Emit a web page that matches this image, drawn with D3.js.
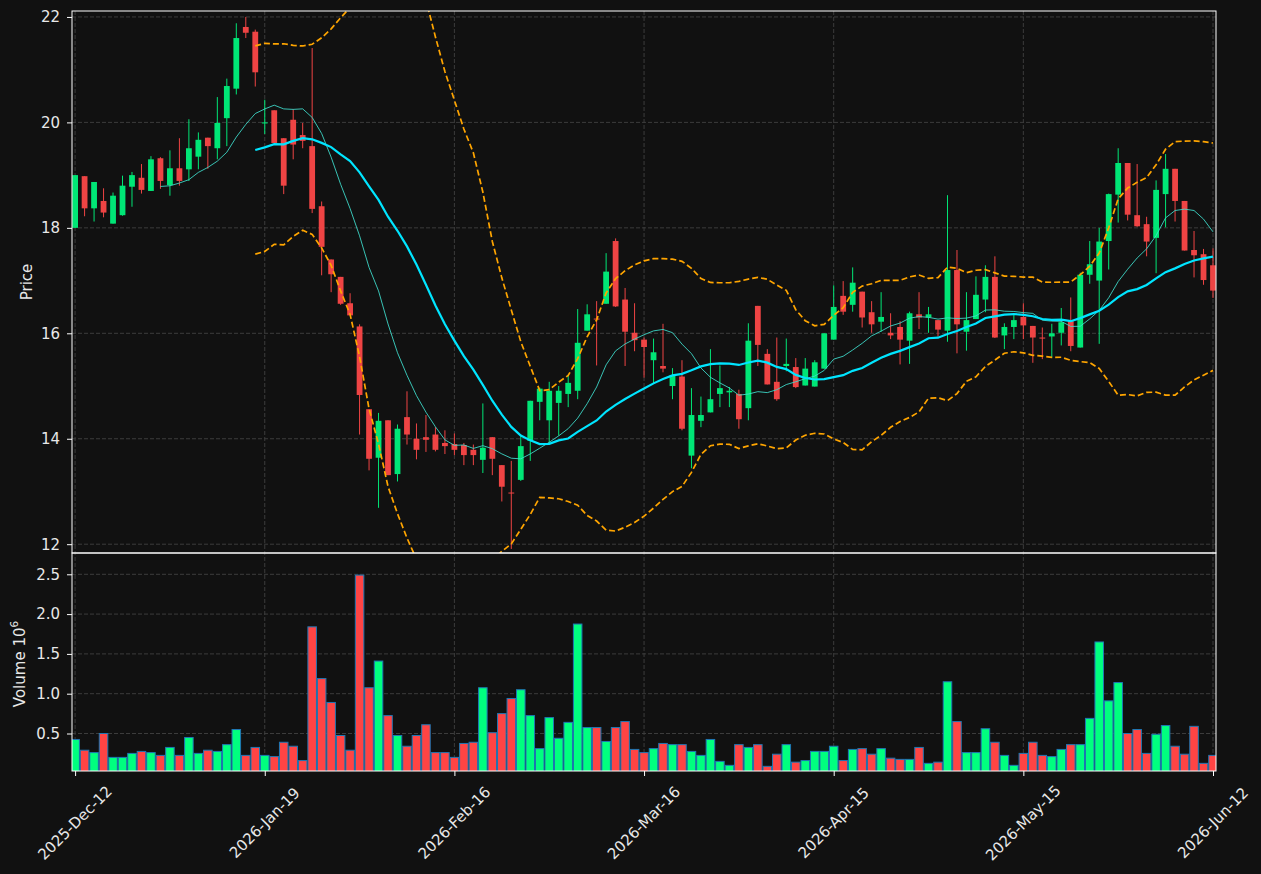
<!DOCTYPE html>
<html>
<head>
<meta charset="utf-8">
<script src="https://cdn.jsdelivr.net/npm/d3@7"></script>
<style>
  body { margin: 0; background: #111111; }
  svg { display: block; }
  text { font-family: "DejaVu Sans", sans-serif; fill: #e8e8e8; }
</style>
</head>
<body>
<svg id="chart" width="1261" height="874"></svg>
<script>
// tick labels on the shared x axis (one every 20 sessions)
const tickIdx = [0, 20, 40, 60, 80, 100, 120];
const tickLabels = ["2025-Dec-12", "2026-Jan-19", "2026-Feb-16", "2026-Mar-16",
                    "2026-Apr-15", "2026-May-15", "2026-Jun-12"];

// daily OHLC
const opens = [
  18.00, 18.98, 18.37, 18.51, 18.08, 18.24, 18.78, 18.95, 18.70, 19.32,
  18.81, 19.13, 19.11, 19.35, 19.71, 19.51, 20.08, 20.64, 21.81, 21.72,
  19.98, 20.23, 19.70, 20.05, 19.76, 19.55, 18.41, 17.40, 17.07, 16.57,
  16.13, 14.56, 13.64, 14.35, 13.33, 14.41, 14.00, 14.03, 14.08, 13.92,
  13.90, 13.88, 13.79, 13.60, 14.03, 13.50, 12.98, 13.22, 13.96, 14.70,
  14.35, 14.68, 14.85, 14.91, 16.05, 16.28, 16.56, 17.75, 16.64, 16.01,
  15.88, 15.49, 15.38, 15.00, 15.18, 13.68, 14.34, 14.50, 14.85, 14.88,
  14.85, 14.58, 16.52, 15.61, 15.08, 15.38, 15.36, 15.01, 14.99, 15.33,
  15.88, 16.71, 16.54, 16.79, 16.40, 16.22, 16.01, 16.12, 15.86, 16.36,
  16.30, 16.25, 16.05, 17.20, 16.03, 16.27, 16.64, 17.07, 15.96, 16.12,
  16.31, 16.14, 15.92, 15.94, 16.01, 16.23, 15.73, 17.11, 17.00, 17.75,
  18.63, 19.23, 18.24, 18.07, 17.81, 18.64, 19.12, 18.51, 17.58, 17.50,
  17.29
];
const highs = [
  19.00, 18.98, 18.87, 18.75, 18.67, 18.99, 19.06, 19.21, 19.36, 19.34,
  19.47, 19.70, 20.06, 19.81, 19.71, 20.48, 20.83, 21.88, 22.00, 21.76,
  20.43, 20.23, 19.70, 20.25, 19.99, 21.41, 18.50, 17.40, 17.07, 16.76,
  16.17, 14.56, 14.49, 14.35, 14.27, 14.90, 14.29, 14.45, 14.22, 14.16,
  14.10, 13.92, 13.89, 14.67, 14.03, 13.50, 13.58, 14.06, 14.72, 14.97,
  15.08, 15.00, 15.21, 16.46, 16.55, 16.61, 17.52, 17.80, 16.86, 16.57,
  15.92, 15.90, 16.18, 15.34, 15.49, 14.96, 14.80, 15.70, 15.39, 14.98,
  14.93, 16.19, 16.52, 15.70, 15.92, 15.90, 15.53, 15.53, 15.49, 16.00,
  16.91, 16.99, 17.25, 16.79, 16.61, 16.78, 16.38, 16.23, 16.41, 16.78,
  16.50, 16.25, 18.62, 17.58, 16.78, 17.08, 17.29, 17.46, 16.19, 16.36,
  16.57, 16.14, 16.11, 16.18, 16.48, 16.68, 17.15, 17.75, 18.00, 18.65,
  19.51, 19.23, 19.21, 18.21, 18.90, 19.40, 19.12, 18.51, 17.94, 17.60,
  17.61
];
const lows = [
  18.00, 18.22, 18.12, 18.20, 18.08, 18.23, 18.40, 18.65, 18.70, 18.74,
  18.61, 18.80, 18.89, 19.11, 19.12, 19.30, 19.55, 20.53, 21.60, 20.68,
  19.78, 19.61, 18.64, 19.30, 19.51, 18.28, 17.10, 16.78, 16.54, 16.34,
  14.08, 13.40, 12.69, 13.31, 13.19, 13.89, 13.61, 13.75, 13.76, 13.71,
  13.69, 13.50, 13.50, 13.35, 13.31, 12.81, 11.91, 13.20, 13.58, 14.35,
  13.92, 14.06, 14.60, 14.75, 16.05, 15.39, 16.56, 16.50, 15.38, 15.66,
  15.16, 15.05, 15.26, 14.75, 14.16, 13.44, 14.22, 14.50, 14.60, 14.60,
  14.19, 14.35, 15.38, 15.03, 14.72, 15.28, 14.96, 15.01, 14.99, 15.33,
  15.88, 16.35, 16.41, 16.11, 16.01, 16.03, 15.89, 15.41, 15.42, 16.08,
  16.01, 15.94, 15.84, 15.62, 15.67, 16.27, 16.40, 15.91, 15.70, 15.89,
  15.89, 15.44, 15.51, 15.54, 15.77, 15.66, 15.73, 16.94, 15.80, 17.21,
  18.10, 18.14, 18.02, 17.46, 17.14, 18.01, 18.12, 17.57, 17.06, 16.92,
  16.67
];
const closes = [
  19.00, 18.37, 18.87, 18.29, 18.61, 18.80, 19.00, 18.72, 19.30, 18.89,
  19.13, 18.89, 19.51, 19.67, 19.55, 19.99, 20.69, 21.60, 21.70, 20.95,
  20.00, 19.61, 18.80, 19.58, 19.65, 18.36, 17.64, 17.12, 16.56, 16.34,
  14.83, 13.62, 14.34, 13.31, 14.19, 14.08, 13.79, 13.98, 13.79, 13.86,
  13.79, 13.69, 13.69, 13.83, 13.62, 13.09, 12.97, 13.86, 14.72, 14.95,
  14.91, 14.91, 15.06, 15.82, 16.36, 16.26, 17.17, 16.51, 16.03, 15.87,
  15.74, 15.64, 15.33, 15.21, 14.19, 14.45, 14.45, 14.75, 14.96, 14.91,
  14.37, 15.86, 15.78, 15.03, 14.75, 15.42, 14.98, 15.33, 15.45, 16.00,
  16.50, 16.41, 16.96, 16.30, 16.17, 16.31, 15.96, 15.88, 16.38, 16.30,
  16.36, 16.07, 17.20, 16.17, 16.25, 16.73, 17.07, 15.92, 16.12, 16.25,
  16.15, 15.92, 15.90, 16.00, 16.21, 15.76, 17.11, 17.31, 17.74, 18.64,
  19.23, 18.25, 18.03, 17.74, 18.72, 19.12, 18.51, 17.57, 17.48, 17.01,
  16.81
];
// volume in millions
const volumes = [
  0.425, 0.29, 0.26, 0.50, 0.20, 0.20, 0.25, 0.275, 0.26, 0.225,
  0.325, 0.225, 0.45, 0.25, 0.29, 0.275, 0.36, 0.55, 0.225, 0.325,
  0.225, 0.21, 0.39, 0.34, 0.16, 1.84, 1.19, 0.89, 0.475, 0.29,
  2.49, 1.075, 1.41, 0.725, 0.475, 0.34, 0.475, 0.61, 0.26, 0.26,
  0.20, 0.375, 0.39, 1.075, 0.51, 0.75, 0.94, 1.05, 0.725, 0.31,
  0.70, 0.44, 0.64, 1.875, 0.575, 0.575, 0.40, 0.575, 0.65, 0.30,
  0.26, 0.31, 0.375, 0.36, 0.36, 0.275, 0.225, 0.425, 0.15, 0.10,
  0.36, 0.325, 0.36, 0.0875, 0.24, 0.36, 0.14, 0.16, 0.275, 0.275,
  0.34, 0.16, 0.30, 0.31, 0.24, 0.31, 0.19, 0.175, 0.175, 0.325,
  0.125, 0.14, 1.15, 0.65, 0.26, 0.26, 0.56, 0.39, 0.225, 0.10,
  0.25, 0.39, 0.225, 0.21, 0.30, 0.36, 0.36, 0.69, 1.65, 0.91,
  1.14, 0.50, 0.55, 0.25, 0.49, 0.60, 0.34, 0.24, 0.59, 0.125,
  0.225
];
const priceTicks = [12, 14, 16, 18, 20, 22];
const volumeTicks = [0.5, 1.0, 1.5, 2.0, 2.5];

const data = opens.map((o, i) => ({
  i: i, open: o, high: highs[i], low: lows[i], close: closes[i], volume: volumes[i]
}));

// rolling indicators from the closes
function rolling(arr, n, fn) {
  return arr.map((_, i) => i < n - 1 ? null : fn(arr.slice(i - n + 1, i + 1)));
}
const ma10 = rolling(closes, 10, w => d3.mean(w));
const ma20 = rolling(closes, 20, w => d3.mean(w));
const sd20 = rolling(closes, 20, w => {
  const m = d3.mean(w);
  return Math.sqrt(d3.mean(w, v => (v - m) * (v - m)));
});
const bbUp = ma20.map((m, i) => m == null ? null : m + 2 * sd20[i]);
const bbLo = ma20.map((m, i) => m == null ? null : m - 2 * sd20[i]);

// layout
const left = 72, right = 1216;
const pTop = 11, pBot = 553, vTop = 553, vBot = 771;
const upCol = "#00e676", downCol = "#ef4444";
const upVol = "#00ff7f", downVol = "#ff4444";
const gridCol = "#3c3c3c";
const fs = "15px";

const svg = d3.select("#chart");
svg.append("rect").attr("width", 1261).attr("height", 874).attr("fill", "#111111");

const x = d3.scaleLinear().domain([0, 120]).range([75.1, 1213]);
const yP = d3.scaleLinear().domain([12, 22]).range([544.2, 16.95]);
const yV = d3.scaleLinear().domain([0, 2.5]).range([773.3, 574.3]);
const step = x(1) - x(0);

const defs = svg.append("defs");
defs.append("clipPath").attr("id", "clipP").append("rect")
  .attr("x", left).attr("y", pTop).attr("width", right - left).attr("height", pBot - pTop);
defs.append("clipPath").attr("id", "clipV").append("rect")
  .attr("x", left).attr("y", vTop).attr("width", right - left).attr("height", vBot - vTop);

// grid
const grid = svg.append("g");
priceTicks.forEach(t => {
  grid.append("line").attr("x1", left).attr("x2", right).attr("y1", yP(t)).attr("y2", yP(t))
    .attr("stroke", gridCol).attr("stroke-dasharray", "4,2");
});
volumeTicks.forEach(t => {
  grid.append("line").attr("x1", left).attr("x2", right).attr("y1", yV(t)).attr("y2", yV(t))
    .attr("stroke", gridCol).attr("stroke-dasharray", "4,2");
});
tickIdx.forEach(t => {
  grid.append("line").attr("x1", x(t)).attr("x2", x(t)).attr("y1", pTop).attr("y2", vBot)
    .attr("stroke", gridCol).attr("stroke-dasharray", "4,2");
});

// candles
const pg = svg.append("g").attr("clip-path", "url(#clipP)");
const bodyW = 5.8;
pg.selectAll(".wick").data(data).enter().append("line")
  .attr("x1", d => x(d.i)).attr("x2", d => x(d.i))
  .attr("y1", d => yP(d.high)).attr("y2", d => yP(d.low))
  .attr("stroke", d => d.close >= d.open ? upCol : downCol).attr("stroke-width", 1);
pg.selectAll(".body").data(data).enter().append("rect")
  .attr("x", d => x(d.i) - bodyW / 2)
  .attr("y", d => yP(Math.max(d.open, d.close)))
  .attr("width", bodyW)
  .attr("height", d => Math.max(1, Math.abs(yP(d.open) - yP(d.close))))
  .attr("fill", d => d.close >= d.open ? upCol : downCol);

// moving averages and bands
const line = d3.line().defined(d => d != null).x((d, i) => x(i)).y(d => yP(d));
pg.append("path").datum(ma10).attr("d", line).attr("fill", "none")
  .attr("stroke", "#40e0d0").attr("stroke-width", 1).attr("stroke-opacity", 0.85);
pg.append("path").datum(ma20).attr("d", line).attr("fill", "none")
  .attr("stroke", "#00e5ff").attr("stroke-width", 2.2);
[bbUp, bbLo].forEach(b => {
  pg.append("path").datum(b).attr("d", line).attr("fill", "none")
    .attr("stroke", "#ffa500").attr("stroke-width", 1.7).attr("stroke-dasharray", "6,3");
});

// volume bars
const vg = svg.append("g").attr("clip-path", "url(#clipV)");
const barW = step * 0.9;
vg.selectAll(".vol").data(data).enter().append("rect")
  .attr("x", d => x(d.i) - barW / 2)
  .attr("y", d => yV(d.volume))
  .attr("width", barW)
  .attr("height", d => yV(0) - yV(d.volume))
  .attr("fill", d => d.close >= d.open ? upVol : downVol)
  .attr("stroke", "#1f77b4").attr("stroke-width", 1);

// axes
function styleAxis(g) {
  g.select(".domain").remove();
  g.selectAll(".tick line").attr("stroke", "#ffffff");
  g.selectAll(".tick text").style("font-size", fs).attr("fill", "#e8e8e8");
}
svg.append("g").attr("transform", `translate(${left},0)`)
  .call(d3.axisLeft(yP).tickValues(priceTicks).tickSize(5).tickPadding(7))
  .call(styleAxis);
svg.append("g").attr("transform", `translate(${left},0)`)
  .call(d3.axisLeft(yV).tickValues(volumeTicks).tickSize(5).tickPadding(7)
    .tickFormat(d3.format(".1f")))
  .call(styleAxis);
svg.append("g").attr("transform", `translate(0,${vBot})`)
  .call(d3.axisBottom(x).tickValues(tickIdx).tickSize(5).tickFormat(""))
  .call(styleAxis);
tickIdx.forEach((t, k) => {
  svg.append("text")
    .attr("transform", `translate(${x(t)},${vBot + 52}) rotate(-45)`)
    .attr("text-anchor", "middle")
    .attr("dominant-baseline", "central")
    .style("font-size", fs)
    .text(tickLabels[k]);
});

// spines
svg.append("rect").attr("x", left).attr("y", pTop).attr("width", right - left).attr("height", pBot - pTop)
  .attr("fill", "none").attr("stroke", "#ffffff").attr("stroke-width", 1);
svg.append("rect").attr("x", left).attr("y", vTop).attr("width", right - left).attr("height", vBot - vTop)
  .attr("fill", "none").attr("stroke", "#ffffff").attr("stroke-width", 1);

// axis labels
svg.append("text")
  .attr("transform", `translate(32,${(pTop + pBot) / 2}) rotate(-90)`)
  .attr("text-anchor", "middle")
  .style("font-size", fs)
  .text("Price");
const vl = svg.append("text")
  .attr("transform", `translate(25,${(vTop + vBot) / 2 + 2}) rotate(-90)`)
  .attr("text-anchor", "middle")
  .style("font-size", fs);
vl.append("tspan").text("Volume  10");
vl.append("tspan").attr("dy", -7).style("font-size", "10.5px").text("6");
</script>
</body>
</html>
